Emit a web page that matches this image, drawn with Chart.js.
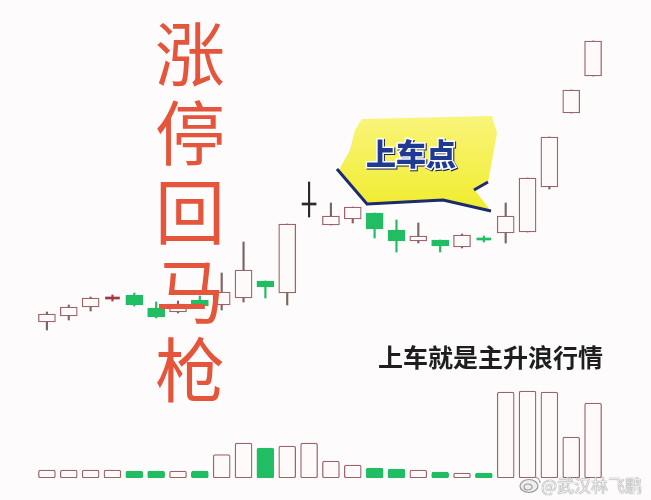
<!DOCTYPE html>
<html><head><meta charset="utf-8">
<script src="https://cdn.jsdelivr.net/npm/chart.js@4.4.0/dist/chart.umd.min.js"></script>
<style>
html,body{margin:0;padding:0;background:#fdfbfb;}
#wrap{position:relative;width:651px;height:500px;overflow:hidden;background:#fdfbfb;}
#c{position:absolute;left:0;top:0;}
.big{position:absolute;left:150px;top:11px;width:80px;font-family:"Noto Sans CJK SC";font-size:70px;line-height:79px;color:#e4553c;text-align:center;}
.big span{display:block;}
.sub{position:absolute;left:378px;top:336px;font-family:"Noto Sans CJK SC";font-weight:700;font-size:25px;line-height:40px;color:#1e1e1e;white-space:nowrap;}
.wm{position:absolute;left:541px;top:473px;font-family:"Noto Sans CJK SC";font-size:17px;line-height:24px;color:#ececec;white-space:nowrap;text-shadow:0 0 1px #8a8a8a,0 0 1px #8a8a8a;}
svg{position:absolute;left:0;top:0;}
</style></head>
<body>
<div id="wrap">
<canvas id="c" width="651" height="500"></canvas>
<svg width="651" height="500" viewBox="0 0 651 500">
 <defs>
  <linearGradient id="yg" x1="0" y1="0" x2="0" y2="1">
   <stop offset="0" stop-color="#f9f57a"/>
   <stop offset="1" stop-color="#f0ec2e"/>
  </linearGradient>
 </defs>
 <polygon points="362,119 492,116 497,133 488,182 474,189 490,210 443,200 368,203 339,170 350,150 355,130" fill="url(#yg)"/>
 <polyline points="337,169 367,204 443,200 491,211" fill="none" stroke="#1c2b6e" stroke-width="3" stroke-linejoin="round"/>
 <polyline points="474,190 488,182" fill="none" stroke="#1c2b6e" stroke-width="3"/>
 <text x="411" y="165" text-anchor="middle" font-family="Noto Sans CJK SC" font-weight="900" font-size="30" fill="#1f3a93" stroke="#ffffff" stroke-width="3" paint-order="stroke" style="filter:drop-shadow(1px 1px 0.5px #1a2050)">上车点</text>
 <g transform="translate(529,486)" fill="none" stroke="#9a9a9a" stroke-width="1.2">
  <ellipse cx="0" cy="0" rx="9" ry="6.5" fill="#eeeeee"/>
  <ellipse cx="-1" cy="1" rx="4" ry="3"/>
  <path d="M6,-9 A6,6 0 0 1 11,-3"/>
 </g>
</svg>
<div class="big"><span>涨</span><span>停</span><span>回</span><span>马</span><span>枪</span></div>
<div class="sub">上车就是主升浪行情</div>
<div class="wm">@武汉林飞鹏</div>
</div>
<script>
const days = ['D1','D2','D3','D4','D5','D6','D7','D8','D9','D10','D11','D12','D13','D14','D15','D16','D17','D18','D19','D20','D21','D22','D23','D24','D25','D26'];
const opens  = [17.8,18.4,19.3,20.1,20.5,19.2,18.8,20.0,19.5,20.2,21.9,20.7,29.5,27.5,28.1,28.7,27.0,25.9,26.0,25.3,26.1,26.7,26.8,31.3,38.7,42.4];
const closes = [18.6,19.3,20.2,20.3,19.5,18.3,19.6,19.4,20.8,23.0,21.3,27.6,29.5,28.4,29.3,27.1,25.9,26.4,25.4,26.5,26.0,28.4,32.2,36.3,41.0,45.9];
const highs  = [18.8,19.5,20.3,20.5,20.7,19.8,19.9,20.4,22.7,25.8,21.9,27.6,31.8,29.7,29.3,28.7,28.0,27.7,26.0,26.6,26.4,29.7,32.2,36.3,41.0,45.9];
const lows   = [17.0,18.0,18.9,19.9,19.4,18.2,18.7,19.2,19.0,19.8,20.2,19.5,28.3,27.5,27.7,26.2,24.8,25.7,24.8,25.2,25.8,25.7,26.8,31.1,38.7,42.4];
const volumes = [80,80,80,80,70,70,70,70,235,350,300,320,350,170,130,100,90,80,60,50,50,860,870,860,410,750];

const UP_LINE = '#9b6468', UP_FILL = '#fffafa', GREEN = '#21bd62', DOJI_UP = '#a8343f', FLAT = '#2a2a2a';
const isDoji = opens.map((o,i)=>Math.abs(closes[i]-o) <= 0.2);
const dir = opens.map((o,i)=> closes[i] > o ? 1 : (closes[i] < o ? -1 : 0));

const bodyData = opens.map((o,i)=> isDoji[i] ? null : [o, closes[i]]);
const dojiData = opens.map((o,i)=> isDoji[i] ? [o, closes[i]] : null);
const wickData = lows.map((l,i)=> [l, highs[i]]);

const bodyFill = dir.map(d => d > 0 ? UP_FILL : GREEN);
const bodyLine = dir.map(d => d > 0 ? UP_LINE : GREEN);
const dojiCol = dir.map(d => d > 0 ? DOJI_UP : (d < 0 ? GREEN : FLAT));
const wickCol = dir.map((d,i) => d < 0 ? GREEN : (d === 0 ? FLAT : (isDoji[i] ? DOJI_UP : '#7d6466')));
const volFill = dir.map(d => d < 0 ? GREEN : UP_FILL);
const volLine = dir.map(d => d < 0 ? GREEN : UP_LINE);

new Chart(document.getElementById('c'), {
  type: 'bar',
  data: {
    labels: days,
    datasets: [
      {label:'body', data: bodyData, yAxisID:'y', barThickness:17, backgroundColor: bodyFill, borderColor: bodyLine, borderWidth:1.3, borderSkipped:false, grouped:false, order:1},
      {label:'doji', data: dojiData, yAxisID:'y', barThickness:14, minBarLength:2, backgroundColor: dojiCol, borderWidth:0, grouped:false, order:0},
      {label:'wick', data: wickData, yAxisID:'y', barThickness:1.5, backgroundColor: wickCol, borderWidth:0, grouped:false, order:2},
      {label:'volume', data: volumes, yAxisID:'v', barThickness:17, backgroundColor: volFill, borderColor: volLine, borderWidth:1.3, borderSkipped:false, borderRadius:2, grouped:false, order:1}
    ]
  },
  options: {
    responsive:false, animation:false, devicePixelRatio:1,
    layout:{padding:{left:36,right:47,top:0,bottom:22}},
    plugins:{legend:{display:false}, tooltip:{enabled:false}},
    scales:{
      x:{display:false, offset:true, grid:{display:false}},
      y:{display:false, min:2.2, max:50},
      v:{display:false, min:0, max:4780}
    }
  }
});
</script>
</body></html>
